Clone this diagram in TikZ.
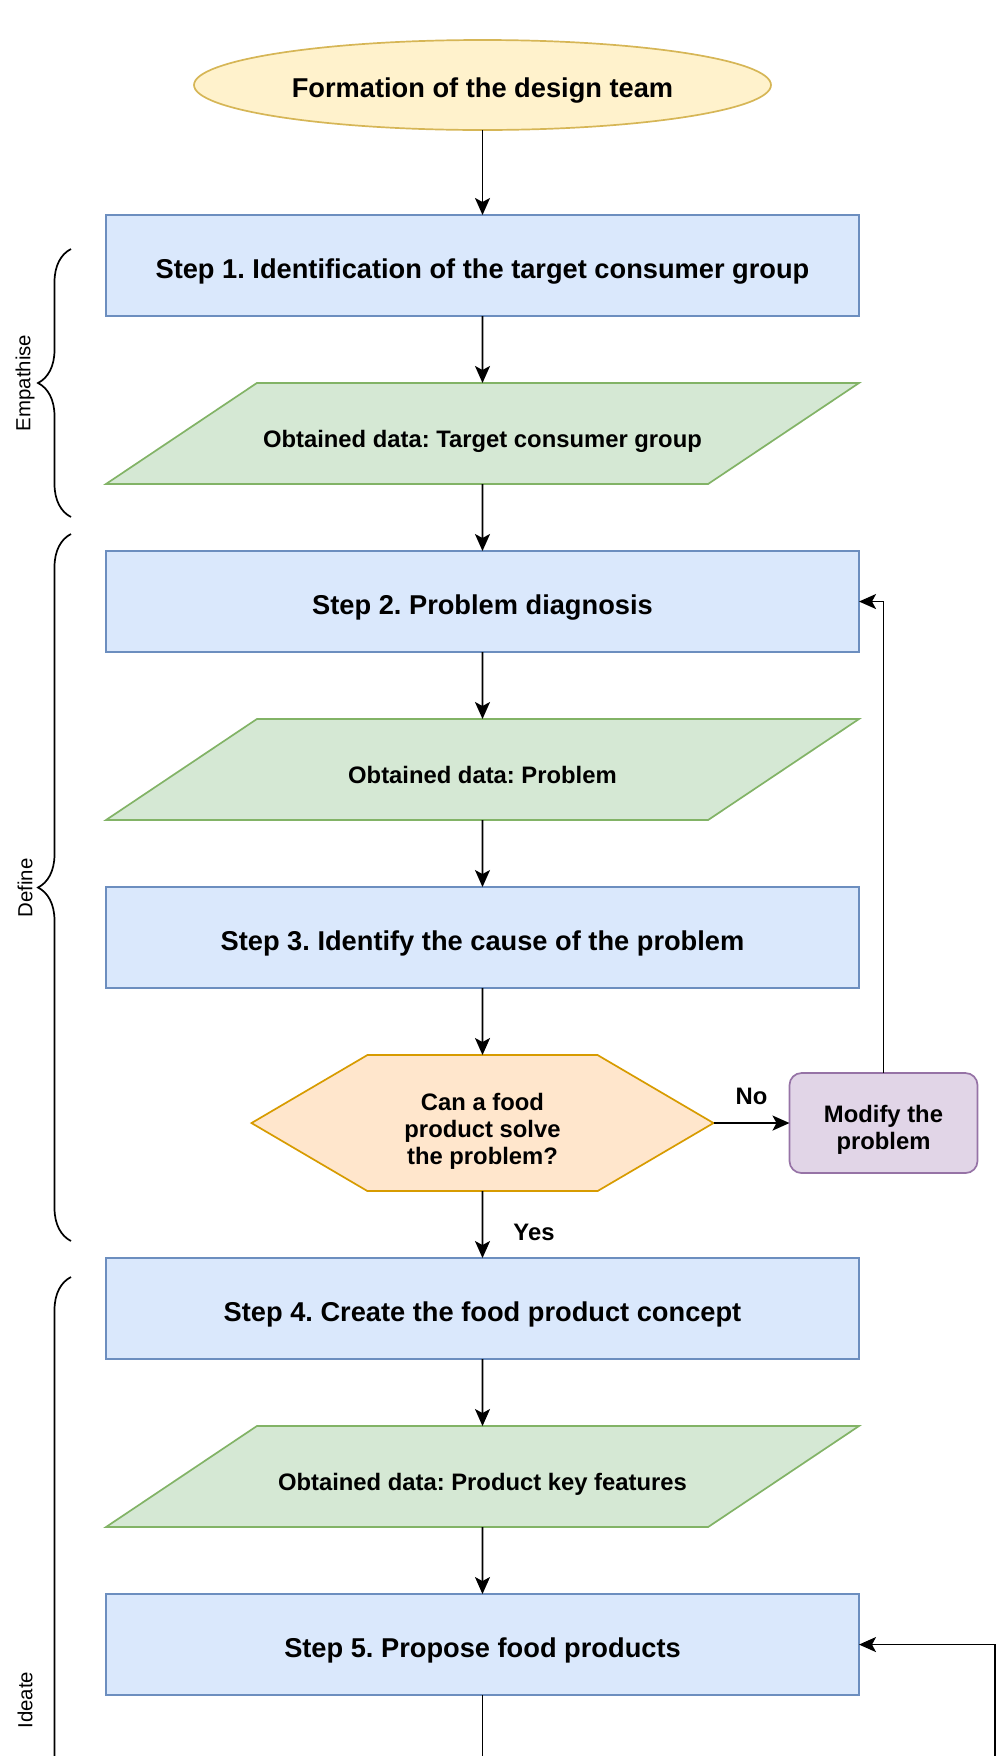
\documentclass[tikz,border=0pt]{standalone}
\usepackage{fontspec}
\setmainfont{Liberation Sans}
\usetikzlibrary{positioning,
	shapes.geometric,
	shapes.symbols,
	decorations.pathreplacing,
	arrows.meta,
	calc}

\definecolor{teamfill}{HTML}{FFF2CC}
\definecolor{teamline}{HTML}{D6B656}
\definecolor{stepfill}{HTML}{DAE8FC}
\definecolor{stepline}{HTML}{6C8EBF}
\definecolor{datafill}{HTML}{D5E8D4}
\definecolor{dataline}{HTML}{82B366}
\definecolor{checkfill}{HTML}{FFE6CC}
\definecolor{checkline}{HTML}{D79B00}
\definecolor{modfill}{HTML}{E1D5E7}
\definecolor{modline}{HTML}{9673A6}

\newcommand{\stepfont}{\fontsize{15.5}{18}\selectfont\bfseries}
\newcommand{\datafont}{\fontsize{13.55}{15.4}\selectfont\bfseries}
\newcommand{\phasefont}{\fontsize{11.6}{13}\selectfont}
\frenchspacing

\begin{document}
\begin{tikzpicture}[
	every node/.style={outer sep=0pt},
	stepbox/.style={rectangle, draw=stepline, fill=stepfill, line width=0.034cm, minimum width=15.06cm, minimum height=2.02cm, text height=0.63cm, text depth=0.115cm, font=\stepfont},
	databox/.style={trapezium, trapezium left angle=33.8, trapezium right angle=146.2, trapezium stretches body=true, draw=dataline, fill=datafill, line width=0.034cm, minimum width=15.06cm, inner xsep=0pt, inner ysep=0.64cm, text height=0.64cm, text depth=0.1cm, font=\datafont},
	flow/.style={line width=0.034cm, -{Stealth[length=0.34cm, width=0.3cm, inset=0.08cm]}},
	phase/.style={decorate, decoration={brace, amplitude=0.66cm}, line width=0.034cm},
	node distance=1.34cm]
	\useasboundingbox (0,0) rectangle (20,-35.12);
	\clip (0,0) rectangle (20,-35.12);

	% main column
	\node (team) [ellipse, draw=teamline, fill=teamfill, line width=0.034cm, minimum width=11.54cm, minimum height=1.80cm, inner sep=0pt, text height=0.63cm, text depth=0.115cm, font=\stepfont] at (9.65,-1.70) {Formation of the design team};
	\node (step1) [stepbox, below=1.70cm of team] {Step 1. Identification of the target consumer group};
	\node (data1) [databox, below=of step1] {Obtained data: Target consumer group};
	\node (step2) [stepbox, below=of data1] {Step 2. Problem diagnosis};
	\node (data2) [databox, below=of step2] {Obtained data: Problem};
	\node (step3) [stepbox, below=of data2] {Step 3. Identify the cause of the problem};
	\node (check) [signal, signal to=west and east, signal pointer angle=60.8, draw=checkline, fill=checkfill, line width=0.034cm, minimum width=9.24cm, minimum height=2.72cm, font=\datafont, below=of step3] {\raisebox{-0.3cm}[0pt][0pt]{\begin{tabular}{@{}c@{}}Can a food\\product solve\\the problem?\end{tabular}}};
	\node (modify) [rectangle, rounded corners=0.24cm, draw=modline, fill=modfill, line width=0.034cm, minimum width=3.76cm, minimum height=2cm, font=\datafont, right=1.52cm of check] {\raisebox{-0.28cm}[0pt][0pt]{\begin{tabular}{@{}c@{}}Modify the\\problem\end{tabular}}};
	\node (step4) [stepbox, below=of check] {Step 4. Create the food product concept};
	\node (data3) [databox, below=of step4] {Obtained data: Product key features};
	\node (step5) [stepbox, below=of data3] {Step 5. Propose food products};

	% connectors
	\draw[flow] (team) -- (step1);
	\draw[flow] (step1) -- (data1);
	\draw[flow] (data1) -- (step2);
	\draw[flow] (step2) -- (data2);
	\draw[flow] (data2) -- (step3);
	\draw[flow] (step3) -- (check);
	\draw[flow] (check) -- node (no) [yshift=0.54cm, font=\datafont] {No} (modify);
	\draw[flow] (modify.north) |- (step2.east);
	\draw[flow] (check) -- node (yes) [xshift=1.03cm, yshift=-0.15cm, font=\datafont] {Yes} (step4);
	\draw[flow] (step4) -- (data3);
	\draw[flow] (data3) -- (step5);
	\coordinate (s5end) at ($(step5.south)+(0,-2)$);
	\draw[line width=0.034cm] (step5) -- (s5end);
	\coordinate (loopend) at (19.9,-36);
	\draw[flow] (loopend) |- (step5.east);

	% phases
	\draw[phase] (1.42,-10.34) -- (1.42,-4.98);
	\node (empathise) [rotate=90, font=\phasefont] at (0.5,-7.66) {Empathise};
	\draw[phase] (1.42,-24.82) -- (1.42,-10.68);
	\node (define) [rotate=90, font=\phasefont] at (0.5,-17.76) {Define};
	\draw[phase] (1.42,-50) -- (1.42,-25.54);
	\node (ideate) [rotate=90, font=\phasefont] at (0.5,-34.0) {Ideate};
\end{tikzpicture}
\end{document}
